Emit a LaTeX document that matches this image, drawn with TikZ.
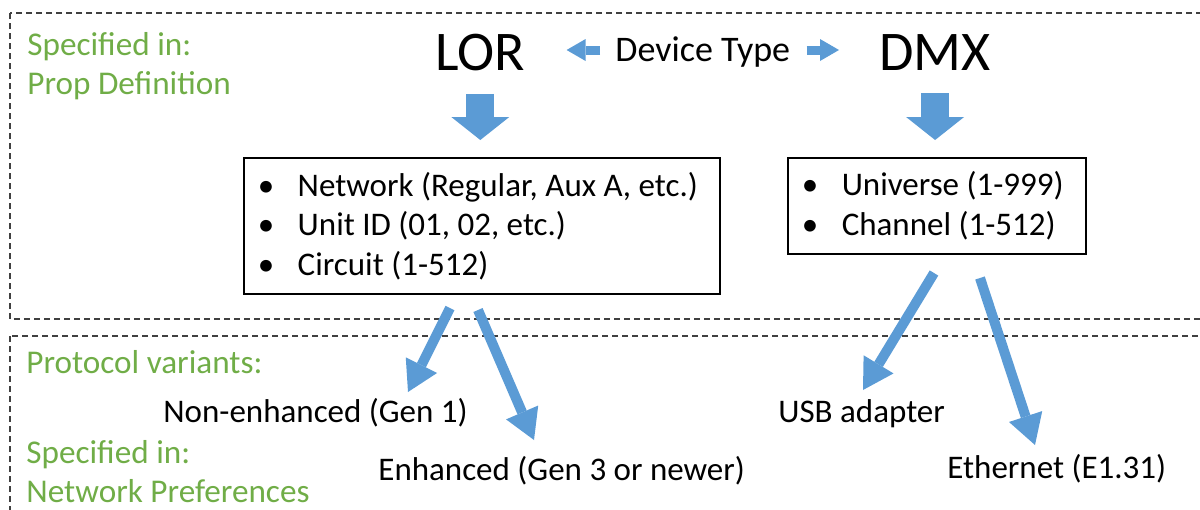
\documentclass[tikz,border=0pt]{standalone}
\usepackage{fontspec}
\setmainfont{Carlito}
\usetikzlibrary{arrows.meta}
\definecolor{notegreen}{RGB}{112,173,71}
\definecolor{arrowblue}{RGB}{91,155,213}
\tikzset{frame/.style={draw=black!75, line width=0.6pt, dash pattern=on 3pt off 2pt}}
\tikzset{note/.style={anchor=base west, inner sep=0pt, text=notegreen, font=\fontsize{16.6}{20}\selectfont}}
\tikzset{choice/.style={anchor=base west, inner sep=0pt, font=\fontsize{16.5}{20}\selectfont}}
\tikzset{device/.style={anchor=base west, inner sep=0pt, font=\fontsize{28}{34}\selectfont}}
\tikzset{listbox/.style={draw, line width=0.75pt, anchor=north west, inner xsep=6pt, inner ysep=0pt, align=flush left, font=\fontsize{16.5}{19.75}\selectfont}}
\tikzset{bigarrow/.style={draw=arrowblue, line width=14pt, -{Triangle[length=11.5pt, width=29pt, line width=0pt]}}}
\tikzset{fatarrow/.style={draw=arrowblue, line width=5pt, -{Triangle[length=15pt, width=17.5pt, line width=0pt]}}}
\tikzset{smallarrow/.style={draw=arrowblue, line width=4.5pt, -{Triangle[length=9.5pt, width=11pt, line width=0pt]}}}
\newcommand{\itemdot}{\makebox[21pt][l]{\hspace{1pt}•}}
\frenchspacing

\begin{document}
\begin{tikzpicture}[x=0.5pt, y=-0.5pt]
    \useasboundingbox (0,0) rectangle (1200,509);
    % the two areas
    \draw[frame] (10,13) rectangle (1210,319);
    \draw[frame] (10,336) rectangle (1210,520);
    % prop definition
    \node[note] (propnote) at (27,55) {Specified in:};
    \node[note] (propdef) at (27,94) {Prop Definition};
    \node[device] (lor) at (435,70) {LOR};
    \node[device] (dmx) at (879,70) {DMX};
    \node[choice, font=\fontsize{18}{22}\selectfont] (devtype) at (615,61) {Device Type};
    \draw[smallarrow, shorten <=7.5pt, shorten >=20.5pt] ([yshift=5.5pt]devtype.base west) -- ([yshift=5.5pt]devtype.base west -| lor.east);
    \draw[smallarrow, shorten <=8pt, shorten >=20pt] ([yshift=5.5pt]devtype.base east) -- ([yshift=5.5pt]devtype.base east -| dmx.west);
    \node[listbox, text width=226pt, minimum height=68pt] (lorlist) at (243,157)
        {\itemdot Network (Regular, Aux A, etc.)\\ \itemdot Unit ID (01, 02, etc.)\\ \itemdot Circuit (1-512)};
    \node[listbox, text width=137pt, minimum height=48pt] (dmxlist) at (787,157)
        {\itemdot Universe (1-999)\\ \itemdot Channel (1-512)};
    \draw[bigarrow, shorten <=11.5pt, shorten >=8.5pt] (lor.south) -- (lor.south |- lorlist.north);
    \draw[bigarrow, shorten <=11.5pt, shorten >=8.5pt] (dmx.south) -- (dmx.south |- dmxlist.north);
    % network preferences
    \node[note] (protonote) at (26,373) {Protocol variants:};
    \node[note] (netnote) at (26,463) {Specified in:};
    \node[note] (netpref) at (26,502) {Network Preferences};
    \node[choice] (nonenh) at (163,422) {Non-enhanced (Gen 1)};
    \node[choice] (enh) at (378,480) {Enhanced (Gen 3 or newer)};
    \node[choice] (usb) at (778,422) {USB adapter};
    \node[choice] (eth) at (947,478) {Ethernet (E1.31)};
    \coordinate (lorout1) at (450,308);
    \coordinate (lorout2) at (478,310);
    \coordinate (dmxout1) at (934,273);
    \coordinate (dmxout2) at (980,278);
    \coordinate (nonenhtip) at (408,392);
    \coordinate (enhtip) at (534,440);
    \coordinate (usbtip) at (863,390);
    \coordinate (ethtip) at (1035,445);
    \draw[fatarrow] (lorout1) -- (nonenhtip);
    \draw[fatarrow] (lorout2) -- (enhtip);
    \draw[fatarrow] (dmxout1) -- (usbtip);
    \draw[fatarrow] (dmxout2) -- (ethtip);
\end{tikzpicture}
\end{document}
